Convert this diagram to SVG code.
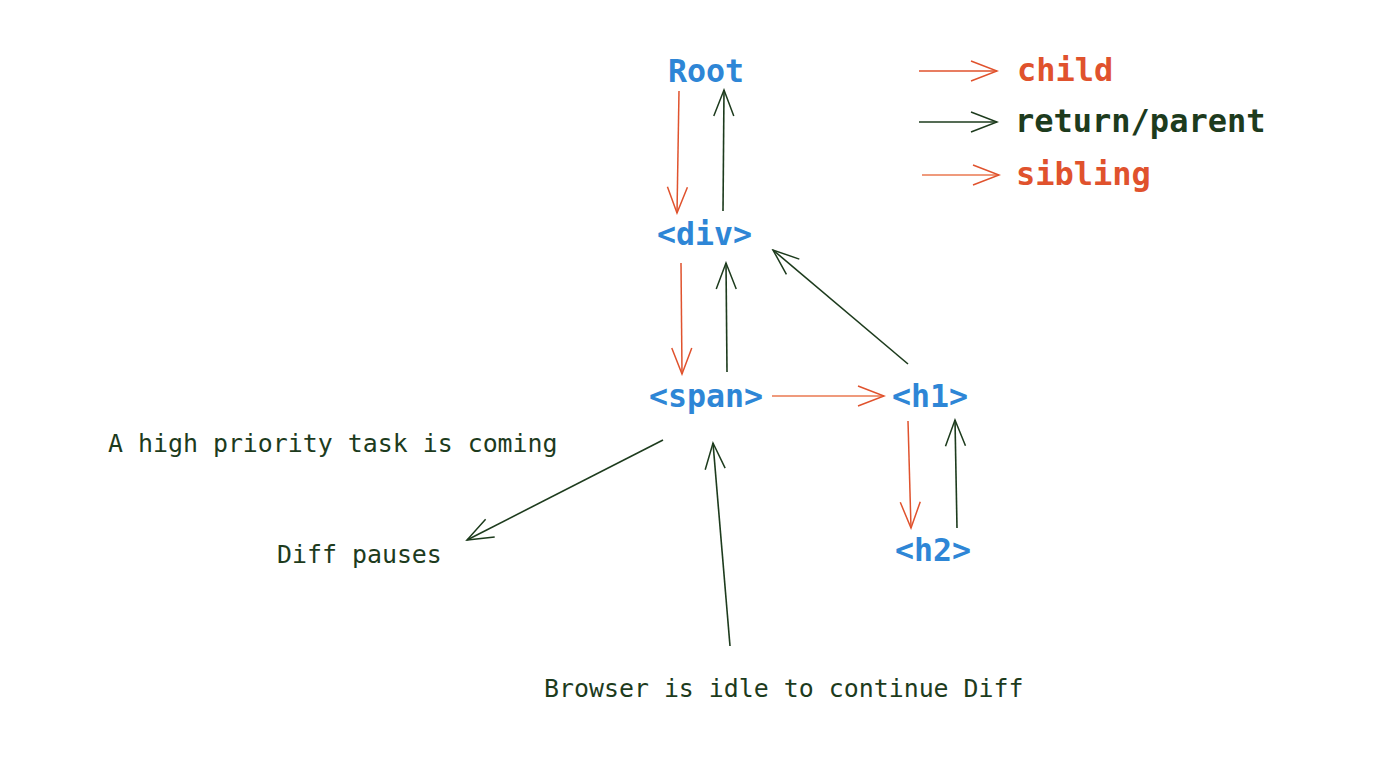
<svg xmlns="http://www.w3.org/2000/svg" width="1400" height="772" viewBox="0 0 1400 772">
<style>
.node{font-family:"DejaVu Sans Mono","Liberation Mono",monospace;font-size:31.6px;font-weight:bold;fill:#2e86d6}
.leg{font-family:"DejaVu Sans Mono","Liberation Mono",monospace;font-size:32px;font-weight:bold}
.note{font-family:"DejaVu Sans Mono","Liberation Mono",monospace;font-size:24.9px;fill:#1d3b1d}
.r{stroke:#e0522d;stroke-width:1.5;fill:none;marker-end:url(#ah-r)}
.s{stroke:#ef9a7c;stroke-width:2;fill:none;marker-end:url(#ah-r)}
.g{stroke:#1d3b1d;stroke-width:1.6;fill:none;marker-end:url(#ah-g)}
</style>
<defs>
<marker id="ah-r" markerUnits="userSpaceOnUse" viewBox="-28 -13 30 26" markerWidth="30" markerHeight="26" refX="0" refY="0" orient="auto">
<path d="M-26,-10 L0,0 L-26,10" fill="none" stroke="#e0522d" stroke-width="1.5"/>
</marker>
<marker id="ah-g" markerUnits="userSpaceOnUse" viewBox="-28 -13 30 26" markerWidth="30" markerHeight="26" refX="0" refY="0" orient="auto">
<path d="M-26,-10 L0,0 L-26,10" fill="none" stroke="#1d3b1d" stroke-width="1.5"/>
</marker>
</defs>
<rect width="1400" height="772" fill="#ffffff"/>
<g id="connectors">
<line class="r" x1="679" y1="91" x2="677" y2="213"/>
<line class="g" x1="723" y1="211" x2="724" y2="90"/>
<line class="r" x1="681" y1="263" x2="682" y2="374"/>
<line class="g" x1="727" y1="372" x2="726" y2="263"/>
<line class="g" x1="908" y1="364" x2="773" y2="250"/>
<line class="s" x1="772" y1="396" x2="884" y2="396"/>
<line class="r" x1="908" y1="421" x2="911" y2="528"/>
<line class="g" x1="957" y1="528" x2="955" y2="420"/>
<line class="g" x1="663" y1="440" x2="467" y2="540"/>
<line class="g" x1="730" y1="646" x2="713" y2="443"/>
<line class="r" x1="919" y1="71" x2="997" y2="71"/>
<line class="g" x1="919" y1="122" x2="997" y2="122"/>
<line class="s" x1="922" y1="175" x2="999" y2="175"/>
</g>
<g id="node-root"><text class="node" x="668" y="82">Root</text></g>
<g id="node-div"><text class="node" x="657" y="245">&lt;div&gt;</text></g>
<g id="node-span"><text class="node" x="649" y="407">&lt;span&gt;</text></g>
<g id="node-h1"><text class="node" x="892" y="407">&lt;h1&gt;</text></g>
<g id="node-h2"><text class="node" x="895" y="561">&lt;h2&gt;</text></g>
<g id="legend">
<text class="leg" x="1017" y="81" fill="#e0522d">child</text>
<text class="leg" x="1015" y="132" fill="#1d3b1d">return/parent</text>
<text class="leg" x="1016" y="185" fill="#e0522d">sibling</text>
</g>
<g id="note-coming"><text class="note" x="108" y="452">A high priority task is coming</text></g>
<g id="note-pauses"><text class="note" x="277" y="563">Diff pauses</text></g>
<g id="note-browser"><text class="note" x="544" y="697">Browser is idle to continue Diff</text></g>
</svg>
